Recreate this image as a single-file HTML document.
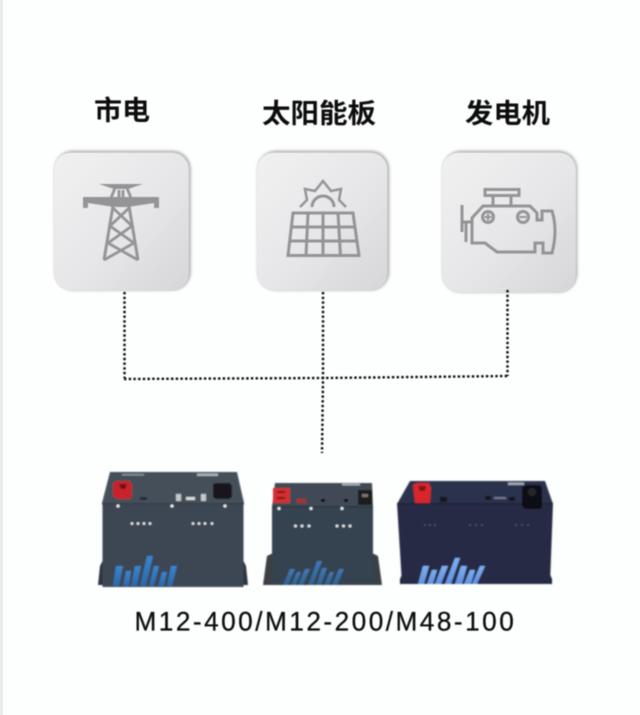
<!DOCTYPE html>
<html lang="zh">
<head>
<meta charset="utf-8">
<title>M12-400/M12-200/M48-100</title>
<style>
html,body{margin:0;padding:0;width:640px;height:715px;overflow:hidden;background:#fdfefe}
svg{display:block}
</style>
</head>
<body>
<svg width="640" height="715" viewBox="0 0 640 715" xmlns="http://www.w3.org/2000/svg">
<defs>
<linearGradient id="card" x1="0" y1="0" x2="1" y2="1">
<stop offset="0" stop-color="#f1f1f2"/><stop offset=".55" stop-color="#e6e6e8"/><stop offset="1" stop-color="#d6d6d8"/>
</linearGradient>
<filter id="sh" x="-10%" y="-10%" width="120%" height="120%"><feGaussianBlur stdDeviation="1.5"/></filter>
<filter id="b3" x="-5%" y="-5%" width="110%" height="110%"><feGaussianBlur stdDeviation=".6"/></filter>
<filter id="b4" x="-5%" y="-5%" width="110%" height="110%"><feGaussianBlur stdDeviation=".45"/></filter>
<filter id="b7" x="-5%" y="-5%" width="110%" height="110%"><feGaussianBlur stdDeviation=".85"/></filter>
<linearGradient id="bar1" x1="0" y1="0" x2="0" y2="1"><stop offset="0" stop-color="#3a84cf"/><stop offset="1" stop-color="#2a68a8"/></linearGradient>
<linearGradient id="bar2" x1="0" y1="0" x2="0" y2="1"><stop offset="0" stop-color="#3f78b4"/><stop offset="1" stop-color="#30608f"/></linearGradient>
<linearGradient id="bar3" x1="0" y1="0" x2="0" y2="1"><stop offset="0" stop-color="#7eaef2"/><stop offset="1" stop-color="#5f92df"/></linearGradient>
</defs>

<rect x="0" y="0" width="640" height="715" fill="#fdfefe"/>
<rect x="0" y="0" width="3" height="715" fill="#e9edee"/>

<!-- Titles -->
<g font-family="'Liberation Sans','Noto Sans CJK SC',sans-serif" font-weight="700" font-size="27" fill="#0d0d0d" filter="url(#b4)">
<text x="94" y="120" textLength="56" lengthAdjust="spacingAndGlyphs">市电</text>
<text x="262" y="123" textLength="114" lengthAdjust="spacingAndGlyphs">太阳能板</text>
<text x="465" y="123" textLength="85" lengthAdjust="spacingAndGlyphs">发电机</text>
</g>

<!-- Cards -->
<g>
<rect x="55" y="151" width="135.500" height="139" rx="18" fill="#8f8f92" opacity=".8" filter="url(#sh)"/>
<rect x="54" y="152.500" width="135" height="138" rx="17" fill="url(#card)" filter="url(#b3)"/>
<rect x="258" y="151" width="131" height="139" rx="18" fill="#8f8f92" opacity=".8" filter="url(#sh)"/>
<rect x="257" y="152.500" width="130.500" height="138" rx="17" fill="url(#card)" filter="url(#b3)"/>
<rect x="443" y="151" width="134" height="141" rx="18" fill="#8f8f92" opacity=".8" filter="url(#sh)"/>
<rect x="442" y="152.500" width="134" height="140" rx="17" fill="url(#card)" filter="url(#b3)"/>
</g>

<!-- Tower -->
<g fill="none" stroke="#949496" stroke-width="2.800" filter="url(#b4)">
<path d="M99 184H143L128 189H114Z" fill="#949496" stroke="none"/>
<path d="M115 188L111 198M127 188L131 198M119 190V197M123 190V197"/>
<path d="M83 197H159V208H154V203L128 207H114L88 203V208H83Z" fill="#949496" stroke="none"/>
<path d="M113 206L104 260M129 206L138 260" stroke-width="3"/>
<path d="M113 208L132 226L108 243L138 260M129 208L110 226L134 243L104 260"/>
</g>

<!-- Solar -->
<g fill="none" stroke="#949496" stroke-width="3" filter="url(#b4)">
<path d="M293 213H353L359 255.500H288Z"/>
<path d="M291 227H355M289.500 241H357.500"/>
<path d="M308 213L306 255.500M323 213V255.500M338 213L340.500 255.500"/>
<path d="M300 207L307 200L305 189L315 191L323 181L331 191L341 189L339 200L346 207" stroke-width="2.500" stroke-linejoin="miter"/>
<path d="M312 207A11 11 0 0 1 334 207"/>
</g>

<!-- Engine -->
<g fill="none" stroke="#949496" stroke-width="3" filter="url(#b4)">
<rect x="485" y="189.500" width="34" height="6"/>
<path d="M493 196V205M511 196V205"/>
<path d="M472 243V218L483 206H530L537 213V220H542V211H552Q558 230 552 253H543V243H535V252H497L485 243Z"/>
<path d="M462 205V232M462 222H472M466 222V242"/>
<circle cx="488" cy="217" r="5.500"/>
<circle cx="523" cy="217" r="5.500"/>
<path d="M484.500 217H491.500M488 213.500V220.500M519.500 217H526.500" stroke-width="2"/>
</g>

<!-- Dotted connectors -->
<g fill="none" stroke="#111" stroke-width="2.400" stroke-dasharray="2.400 2.300" filter="url(#b3)">
<path d="M124.500 292V378"/>
<path d="M323 292V378L322 453"/>
<path d="M507.500 290V376"/>
<path d="M124 379L323 378L508 376"/>
</g>

<!-- Battery 1 -->
<g filter="url(#b7)">
<path d="M100 566L103 560V585H98ZM246 566L243 560V585H248Z" fill="#2c343c"/>
<rect x="102.500" y="502" width="141" height="85" fill="#3d4752"/>
<path d="M110 472H237L244 503H102Z" fill="#454f5a"/>
<path d="M102 503H244V504.500H102Z" fill="#333c46"/>
<path d="M113 483L117 481H130L132 485V497L129 499H117L113 496Z" fill="#c8232a"/>
<path d="M119 484H127L125 489H121Z" fill="#7a1116"/>
<path d="M213 484L217 483H230L232 486V497L229 499H216L213 497Z" fill="#17181a"/>
<rect x="140" y="497" width="7" height="3" fill="#1c2c3e"/>
<rect x="176" y="494" width="5" height="7" fill="#c4c8c8"/>
<rect x="201" y="494" width="5" height="7" fill="#c4c8c8"/>
<rect x="186" y="497" width="9" height="3" fill="#d8dcd8"/>
<rect x="122" y="474" width="22" height="1.500" fill="#8c959e"/>
<rect x="197" y="473.500" width="21" height="2.500" fill="#aab1b8"/>
<g fill="#f4f6f7"><circle cx="118" cy="506" r="1.500"/><circle cx="172" cy="506" r="1.500"/><circle cx="225" cy="506" r="1.500"/>
<circle cx="132" cy="523.500" r="1.300"/><circle cx="138" cy="523.500" r="1.300"/><circle cx="144" cy="523.500" r="1.300"/><circle cx="150" cy="523.500" r="1.300"/>
<circle cx="193" cy="523.500" r="1.300"/><circle cx="199" cy="523.500" r="1.300"/><circle cx="205" cy="523.500" r="1.300"/><circle cx="212" cy="523.500" r="1.300"/></g>
<g fill="url(#bar1)">
<path d="M116 566H123L119 586H113Z"/>
<path d="M126 571H131L129 586H123Z"/>
<path d="M135 566H141L137 586H131Z"/>
<path d="M147 556H153L146 586H140Z"/>
<path d="M154 566H159L154 586H149Z"/>
<path d="M162 572H167L164 586H158Z"/>
<path d="M171 566H177L172 586H167Z"/>
</g>
</g>

<!-- Battery 2 -->
<g filter="url(#b7)">
<path d="M267 556L273 553V585H263ZM378 556L372 553V585H382Z" fill="#3a3f44"/>
<rect x="272" y="506" width="101" height="79" fill="#34424f"/>
<path d="M275 483H372L373 507H272Z" fill="#414a54"/>
<rect x="272" y="506" width="101" height="1.500" fill="#2c3640"/>
<rect x="273" y="488" width="17" height="15" fill="#d42f33"/>
<rect x="277" y="491" width="8" height="2" fill="#7c1518"/><rect x="277" y="497" width="8" height="2" fill="#7c1518"/>
<rect x="358" y="490" width="14" height="15" fill="#1a1b1e"/>
<rect x="362" y="494" width="6" height="3" fill="#777"/>
<rect x="297" y="499" width="9" height="4" fill="#b22b30"/>
<rect x="321" y="499" width="4" height="3" fill="#111"/><rect x="344" y="499" width="4" height="3" fill="#111"/>
<rect x="342" y="483.500" width="18" height="2" fill="#a4acb4"/>
<g fill="#f0f3f5"><circle cx="279" cy="508.500" r="1.500"/><circle cx="311" cy="508.500" r="1.500"/><circle cx="342" cy="508.500" r="1.500"/>
<circle cx="295.500" cy="526" r="1.400"/><circle cx="302" cy="526" r="1.400"/><circle cx="309" cy="526" r="1.400"/>
<circle cx="337" cy="526" r="1.400"/><circle cx="343.500" cy="526" r="1.400"/><circle cx="350" cy="526" r="1.400"/></g>
<g fill="url(#bar2)">
<path d="M290 569H295L288 585H283Z"/>
<path d="M297 572H301L296 585H291Z"/>
<path d="M305 569H310L303 585H298Z"/>
<path d="M317 561H322L313 585H308Z"/>
<path d="M322 568H327L321 585H316Z"/>
<path d="M330 572H334L329 585H324Z"/>
<path d="M339 569H344L337 585H332Z"/>
</g>
</g>

<!-- Battery 3 -->
<g filter="url(#b7)">
<path d="M400 579L404 570V584H400ZM552 579L548 570V584H552Z" fill="#1f2433"/>
<path d="M397 503H553L550 584H402Z" fill="#252b45"/>
<path d="M410 481H545L553 504H397Z" fill="#2a314d"/>
<rect x="397" y="503" width="156" height="1.500" fill="#1a2036"/>
<path d="M413 485L417 483H429L431 488L430 503H415Z" fill="#d8262a"/>
<path d="M418 486H426L425 491H420Z" fill="#821216"/>
<path d="M522 487L526 485H540L542 488V508L539 509H525L522 506Z" fill="#0e0f12"/>
<circle cx="532" cy="492" r="4" fill="#26272b"/>
<rect x="440" y="497" width="7" height="5" fill="#14161d"/>
<rect x="485" y="496" width="6" height="4" fill="#14161d"/>
<rect x="509" y="497" width="6" height="4" fill="#14161d"/>
<rect x="494" y="497" width="12" height="2" fill="#717a8c"/>
<rect x="508" y="482.500" width="16" height="2.500" fill="#a0a7b8"/>
<g fill="#5f6d87"><circle cx="425" cy="525" r=".8"/><circle cx="430" cy="525" r=".8"/><circle cx="435" cy="525" r=".8"/>
<circle cx="470" cy="525" r=".8"/><circle cx="476" cy="525" r=".8"/><circle cx="482" cy="525" r=".8"/>
<circle cx="516" cy="525" r=".8"/><circle cx="522" cy="525" r=".8"/><circle cx="528" cy="525" r=".8"/></g>
<g fill="url(#bar3)">
<path d="M423 566H429L424 584H418Z"/>
<path d="M432 570H437L433 584H427Z"/>
<path d="M442 566H448L441 584H435Z"/>
<path d="M455 558H460L451 584H445Z"/>
<path d="M461 566H467L462 584H455Z"/>
<path d="M470 570H475L471 584H464Z"/>
<path d="M480 566H485L477 584H472Z"/>
</g>
</g>

<!-- Model label -->
<text transform="translate(134.500 630.500) scale(.97 1)" x="0" y="0" font-family="'Liberation Sans',sans-serif" font-size="27" fill="#111" stroke="#111" stroke-width=".3" textLength="391" lengthAdjust="spacing" filter="url(#b4)">M12-400/M12-200/M48-100</text>
</svg>
</body>
</html>
